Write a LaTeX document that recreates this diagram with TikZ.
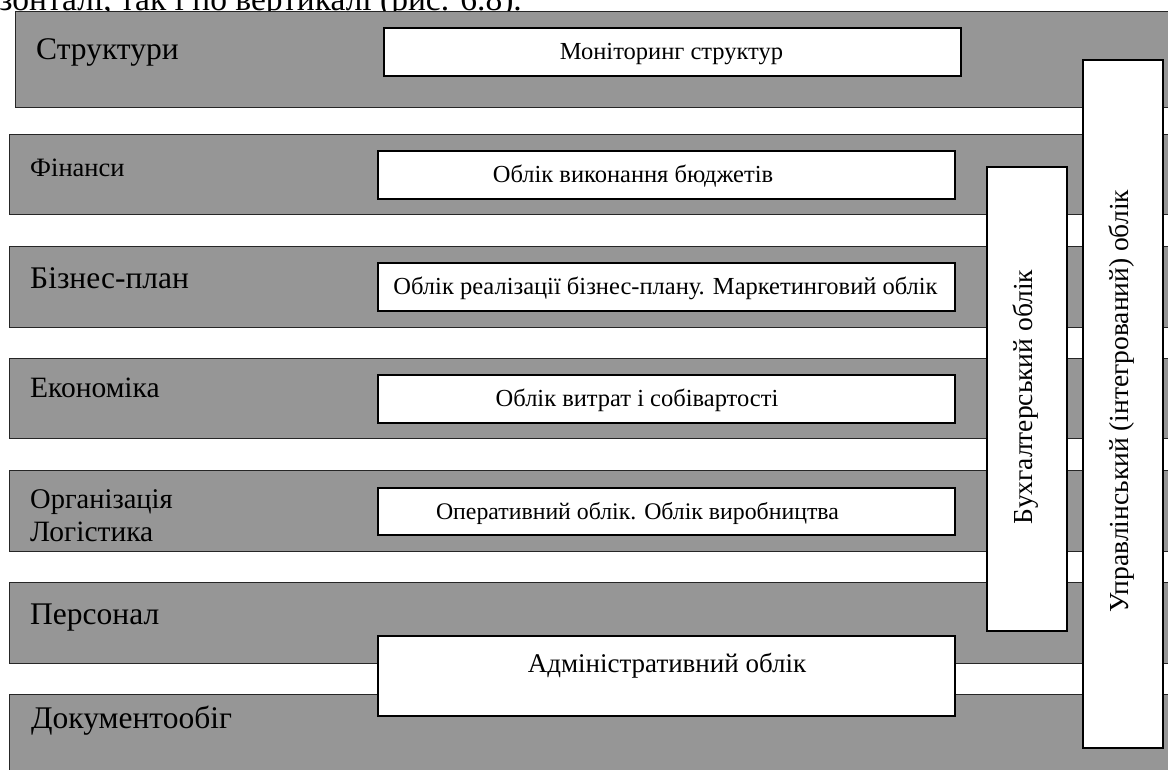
\documentclass[tikz,border=0pt]{standalone}
\usepackage{fontspec}
\setmainfont{Liberation Serif}
\definecolor{bandgray}{RGB}{150,150,150}
\begin{document}
\begin{tikzpicture}[x=1pt,y=-1pt,
  band/.style={draw=black!85, line width=1.2pt, fill=bandgray, inner sep=0pt, anchor=north west},
  wbox/.style={draw=black, line width=1.5pt, fill=white, inner sep=0pt, anchor=north west},
  biglbl/.style={anchor=base west, inner sep=0pt, font=\fontsize{31.5}{34}\selectfont},
  midlbl/.style={anchor=base west, inner sep=0pt, font=\fontsize{28.5}{32}\selectfont},
  boxtxt/.style={anchor=base, inner sep=0pt, font=\fontsize{24.5}{28}\selectfont},
  vtxt/.style={inner sep=0pt, rotate=90, font=\fontsize{27.5}{30}\selectfont}]
\useasboundingbox (0,0) rectangle (1168,769);
\clip (0,0) rectangle (1168,769);
% clipped line of page text above the figure
\node[anchor=base east, inner sep=0pt, font=\fontsize{33.5}{36}\selectfont] (pagetext) at (522,10) {горизонталі, так і по вертикалі (рис. 6.8).};
% horizontal bands
\node[band, minimum width=1170pt, minimum height=96pt] (struct) at (15,11) {};
\node[band, minimum width=1176pt, minimum height=80pt] (fin) at (9,134) {};
\node[band, minimum width=1176pt, minimum height=81pt] (biz) at (9,246) {};
\node[band, minimum width=1176pt, minimum height=80pt] (econ) at (9,358) {};
\node[band, minimum width=1176pt, minimum height=81pt] (org) at (9,470) {};
\node[band, minimum width=1176pt, minimum height=81pt] (pers) at (9,582) {};
\node[band, minimum width=1176pt, minimum height=95pt] (doc) at (9,694) {};
% band labels
\node[biglbl] (structlbl) at (36,59) {Структури};
\node[midlbl, font=\fontsize{26.5}{30}\selectfont] (finlbl) at (30,176) {Фінанси};
\node[biglbl] (bizlbl) at (30,288) {Бізнес-план};
\node[midlbl, font=\fontsize{29.5}{32}\selectfont] (econlbl) at (30,397) {Економіка};
\node[midlbl] (orglbl) at (30,508) {Організація};
\node[midlbl, font=\fontsize{29.5}{32}\selectfont] (loglbl) at (30,541) {Логістика};
\node[biglbl] (perslbl) at (30,624) {Персонал};
\node[biglbl] (doclbl) at (31,728) {Документообіг};
% vertical accounting boxes
\node[wbox, minimum width=80pt, minimum height=688pt] (upr) at (1082,59) {};
\node[vtxt] (uprlbl) at (1122,401) {Управлінський (інтегрований) облік};
\node[wbox, minimum width=80pt, minimum height=464pt] (buh) at (986,166) {};
\node[vtxt] (buhlbl) at (1026,397) {Бухгалтерський облік};
% horizontal accounting boxes
\node[wbox, minimum width=577pt, minimum height=48pt] (mon) at (383,27) {};
\node[boxtxt] (monlbl) at (671.5,59) {Моніторинг структур};
\node[wbox, minimum width=577pt, minimum height=48pt] (finbox) at (377,150) {};
\node[boxtxt] (finboxlbl) at (633,182) {Облік виконання бюджетів};
\node[wbox, minimum width=577pt, minimum height=48pt] (bizbox) at (377,262) {};
\node[boxtxt] (bizboxlbl) at (665.5,294) {Облік реалізації бізнес-плану. Маркетинговий облік};
\node[wbox, minimum width=577pt, minimum height=48pt] (econbox) at (377,374) {};
\node[boxtxt] (econboxlbl) at (637,406) {Облік витрат і собівартості};
\node[wbox, minimum width=577pt, minimum height=47pt] (orgbox) at (377,487) {};
\node[boxtxt, font=\fontsize{23.8}{28}\selectfont] (orgboxlbl) at (637.5,519) {Оперативний облік. Облік виробництва};
\node[wbox, minimum width=577pt, minimum height=80pt] (admin) at (377,635) {};
\node[anchor=base, inner sep=0pt, font=\fontsize{27}{30}\selectfont] (adminlbl) at (667,672) {Адміністративний облік};
\end{tikzpicture}
\end{document}
